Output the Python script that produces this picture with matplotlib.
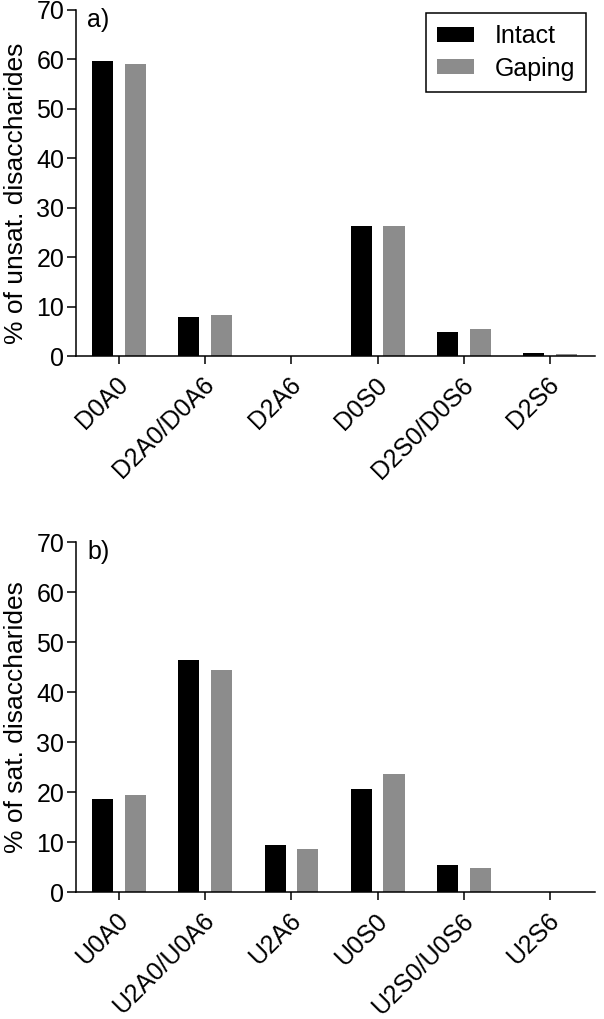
import matplotlib
matplotlib.use("Agg")
import matplotlib.pyplot as plt
import matplotlib.transforms as mtransforms
import numpy as np

plt.rcParams['font.family'] = ['Liberation Sans', 'DejaVu Sans']

cats_a = ["D0A0", "D2A0/D0A6", "D2A6", "D0S0", "D2S0/D0S6", "D2S6"]
intact_a = [59.7, 7.8, 0.0, 26.4, 4.9, 0.6]
gaping_a = [59.1, 8.3, 0.0, 26.4, 5.4, 0.5]

cats_b = ["U0A0", "U2A0/U0A6", "U2A6", "U0S0", "U2S0/U0S6", "U2S6"]
intact_b = [18.7, 46.4, 9.5, 20.6, 5.4, 0.0]
gaping_b = [19.4, 44.4, 8.7, 23.7, 4.8, 0.0]

yticks = [0, 10, 20, 30, 40, 50, 60, 70]

BLACK = "#000000"
GREY = "#8c8c8c"
FS = 18

fig = plt.figure(figsize=(6.04, 10.19), dpi=100)
ax_a = fig.add_axes([0.1258, 0.6506, 0.859, 0.3396])
ax_b = fig.add_axes([0.1258, 0.1246, 0.859, 0.3435])


def draw(ax, cats, intact, gaping, ylabel, tag, legend, ly):
    x = np.arange(len(cats))
    w = 0.245
    off = 0.19
    ax.bar(x - off, intact, width=w, color=BLACK, label="Intact")
    ax.bar(x + off, gaping, width=w, color=GREY, label="Gaping")
    ax.set_xlim(-0.5, 5.52)
    ax.set_ylim(0, 70)
    ax.set_yticks(yticks)
    ax.set_xticks(x)
    ax.set_xticklabels(cats, rotation=45, ha="right", rotation_mode="anchor",
                       fontsize=FS)
    ax.tick_params(axis="y", labelsize=FS, length=6.5, width=1.1, pad=2)
    ax.tick_params(axis="x", length=6, width=1.1, pad=6)
    shift = mtransforms.ScaledTranslation(-3 / 100, 0, fig.dpi_scale_trans)
    for lbl in ax.get_xticklabels():
        lbl.set_transform(lbl.get_transform() + shift)
    for s in ["top", "right"]:
        ax.spines[s].set_visible(False)
    for s in ["left", "bottom"]:
        ax.spines[s].set_linewidth(1.1)
    ax.set_ylabel(ylabel, fontsize=19)
    ax.yaxis.set_label_coords(-0.092, ly)
    ax.text(-0.37, 68, tag, fontsize=FS, va="center", ha="left")
    if legend:
        leg = ax.legend(loc="upper right", bbox_to_anchor=(0.983, 0.992),
                        borderaxespad=0,
                        fontsize=FS, fancybox=False, edgecolor="black",
                        framealpha=1, handlelength=1.5, handleheight=0.55,
                        borderpad=0.45, labelspacing=0.35, handletextpad=0.8)
        leg.get_frame().set_linewidth(1.1)


draw(ax_a, cats_a, intact_a, gaping_a, "% of unsat. disaccharides", "a)", True, 0.47)
draw(ax_b, cats_b, intact_b, gaping_b, "% of sat. disaccharides", "b)", False, 0.5)

fig.savefig("out.png", dpi=100)
